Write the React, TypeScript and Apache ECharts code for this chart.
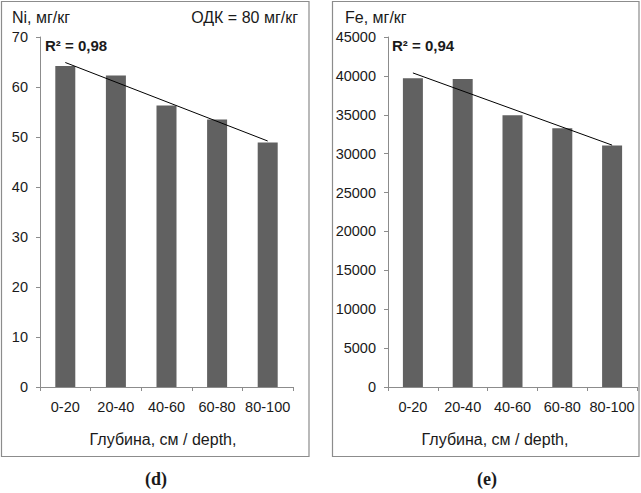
import React, { useEffect, useRef } from "react";
import * as echarts from "echarts";

const categories = ["0-20", "20-40", "40-60", "60-80", "80-100"];
const niValues = [64.2, 62.3, 56.3, 53.5, 48.9];
const feValues = [39700, 39600, 34950, 33280, 31050];
const niTrend = [64.9, null, null, null, 49.2];
const feTrend = [40380, null, null, null, 31100];
const niTicks = { min: 0, max: 70, interval: 10 };
const feTicks = { min: 0, max: 45000, interval: 5000 };

const FONT = "Liberation Sans, Arial, sans-serif";
const TXT = "#1a1a1a";
const AX = "#8c8c8c";
const BAR = "#616161";

export default function App() {
  const ref = useRef<HTMLDivElement>(null);
  useEffect(() => {
    if (!ref.current) return;
    const chart = echarts.init(ref.current, null, { renderer: "svg" });
    const xAxisBase = (gridIndex: number) => ({
      type: "category",
      gridIndex,
      data: categories,
      axisLine: { lineStyle: { color: AX, width: 1 } },
      axisTick: { show: true, length: 4, lineStyle: { color: AX } },
      axisLabel: { color: TXT, fontFamily: FONT, fontSize: 14.5, margin: 12, interval: 0 },
    });
    const yAxisBase = (gridIndex: number, t: any) => ({
      type: "value",
      gridIndex,
      min: t.min,
      max: t.max,
      interval: t.interval,
      splitLine: { show: false },
      axisLine: { show: true, lineStyle: { color: AX, width: 1 } },
      axisTick: { show: true, length: 4, lineStyle: { color: AX } },
      axisLabel: {
        color: TXT,
        fontFamily: FONT,
        fontSize: 14.5,
        margin: 12,
        formatter: (v: number) => String(v),
      },
    });
    const txt = (x: number, y: number, text: string, opts: any = {}) => ({
      type: "text",
      x,
      y,
      style: {
        text,
        fill: TXT,
        font: opts.font || `16px ${FONT}`,
        textAlign: opts.align || "left",
        textVerticalAlign: "middle",
      },
    });
    chart.setOption({
      animation: false,
      backgroundColor: "#ffffff",
      grid: [
        { left: 40, top: 37, width: 253, height: 350 },
        { left: 388, top: 37, width: 249, height: 350 },
      ],
      xAxis: [xAxisBase(0), xAxisBase(1)],
      yAxis: [yAxisBase(0, niTicks), yAxisBase(1, feTicks)],
      series: [
        {
          type: "bar",
          xAxisIndex: 0,
          yAxisIndex: 0,
          data: niValues,
          barWidth: 20,
          itemStyle: { color: BAR },
        },
        {
          type: "line",
          xAxisIndex: 0,
          yAxisIndex: 0,
          data: niTrend,
          connectNulls: true,
          symbol: "none",
          lineStyle: { color: "#000", width: 1 },
          z: 5,
        },
        {
          type: "bar",
          xAxisIndex: 1,
          yAxisIndex: 1,
          data: feValues,
          barWidth: 20,
          itemStyle: { color: BAR },
        },
        {
          type: "line",
          xAxisIndex: 1,
          yAxisIndex: 1,
          data: feTrend,
          connectNulls: true,
          symbol: "none",
          lineStyle: { color: "#000", width: 1 },
          z: 5,
        },
      ],
      graphic: [
        {
          type: "rect",
          shape: { x: 1.5, y: 1.5, width: 307.5, height: 455 },
          style: { fill: "none", stroke: AX, lineWidth: 1.2 },
          silent: true,
        },
        {
          type: "rect",
          shape: { x: 332.5, y: 1.5, width: 306.5, height: 455 },
          style: { fill: "none", stroke: AX, lineWidth: 1.2 },
          silent: true,
        },
        txt(12, 17, "Ni, мг/кг"),
        txt(298, 17, "ОДК = 80 мг/кг", { align: "right" }),
        txt(45, 45, "R² = 0,98", { font: `bold 15px ${FONT}` }),
        txt(345, 17, "Fe, мг/кг"),
        txt(392, 45, "R² = 0,94", { font: `bold 15px ${FONT}` }),
        txt(163, 439, "Глубина, см / depth,", { align: "center" }),
        txt(495, 439, "Глубина, см / depth,", { align: "center" }),
        txt(156, 479, "(d)", { align: "center", font: `bold 18px "Liberation Serif", "Times New Roman", serif` }),
        txt(487, 479, "(e)", { align: "center", font: `bold 18px "Liberation Serif", "Times New Roman", serif` }),
      ],
    });
    return () => chart.dispose();
  }, []);
  return (
    <div
      ref={ref}
      style={{ position: "fixed", left: 0, top: 0, width: 641, height: 493 }}
    />
  );
}
